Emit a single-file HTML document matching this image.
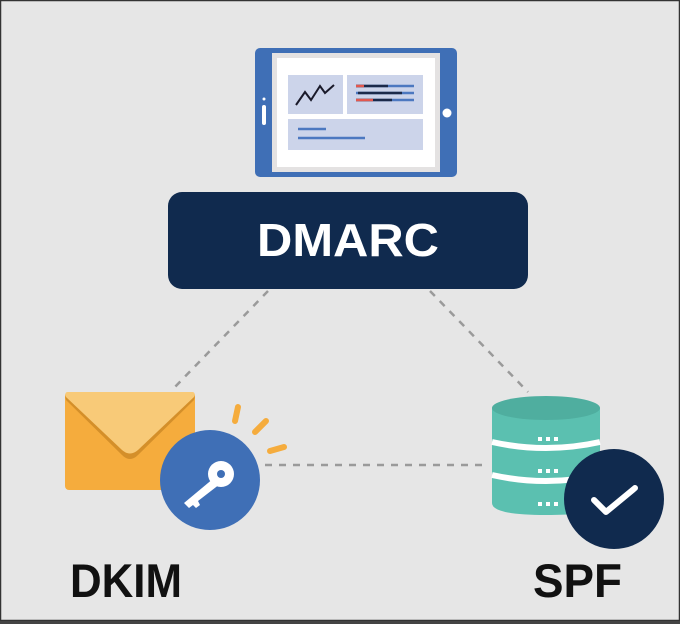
<!DOCTYPE html>
<html><head><style>html,body{margin:0;padding:0;background:#e6e6e6}svg{display:block}</style></head>
<body>
<svg width="680" height="624" viewBox="0 0 680 624" xmlns="http://www.w3.org/2000/svg" font-family="Liberation Sans, sans-serif">
<rect x="0" y="0" width="680" height="624" fill="#e6e6e6"/>
<rect x="0.5" y="0.5" width="679" height="620" fill="none" stroke="#333" stroke-width="1.5"/>
<rect x="0" y="621" width="680" height="3" fill="#444"/>
<!-- dashed connectors -->
<g stroke="#9a9a9a" stroke-width="2.5" stroke-dasharray="7 7" fill="none">
<line x1="268" y1="291" x2="172" y2="390"/>
<line x1="430" y1="291" x2="528" y2="392"/>
<line x1="265" y1="465" x2="488" y2="465"/>
</g>
<!-- tablet -->
<rect x="255" y="48" width="202" height="129" rx="5" fill="#3f6fb6"/>
<rect x="272" y="53" width="168" height="119" fill="#e4e2e2"/>
<rect x="277" y="58" width="158" height="109" fill="#ffffff"/>
<rect x="288" y="75" width="55" height="39" fill="#ccd4ea"/>
<rect x="347" y="75" width="76" height="39" fill="#ccd4ea"/>
<rect x="288" y="119" width="135" height="31" fill="#ccd4ea"/>
<polyline points="296,105 305,92 311,100 320,86 325,93 334,85" fill="none" stroke="#1a1a2a" stroke-width="2"/>
<g stroke-width="2.5">
<line x1="356" y1="86" x2="414" y2="86" stroke="#4c78c0"/>
<line x1="356" y1="86" x2="388" y2="86" stroke="#1b2a4a"/>
<line x1="356" y1="86" x2="364" y2="86" stroke="#e2584f"/>
<line x1="356" y1="93" x2="414" y2="93" stroke="#4c78c0"/>
<line x1="358" y1="93" x2="402" y2="93" stroke="#1b2a4a"/>
<line x1="356" y1="100" x2="414" y2="100" stroke="#4c78c0"/>
<line x1="356" y1="100" x2="392" y2="100" stroke="#1b2a4a"/>
<line x1="356" y1="100" x2="373" y2="100" stroke="#e2584f"/>
<line x1="298" y1="129" x2="326" y2="129" stroke="#4c78c0"/>
<line x1="298" y1="138" x2="365" y2="138" stroke="#4c78c0"/>
</g>
<rect x="262" y="105" width="4" height="20" rx="2" fill="#fff"/>
<circle cx="264" cy="99" r="1.5" fill="#fff"/>
<circle cx="447" cy="113" r="4.5" fill="#fff"/>
<!-- DMARC -->
<rect x="168" y="192" width="360" height="97" rx="14" fill="#102a4e"/>
<text x="348" y="256" text-anchor="middle" fill="#fff" font-size="46" font-weight="bold" textLength="182" lengthAdjust="spacingAndGlyphs">DMARC</text>
<!-- envelope -->
<rect x="65" y="392" width="130" height="98" rx="4" fill="#f5ac3d"/>
<path d="M68,392 L192,392 Q196,392 194,397 L138,452 Q130,460 122,452 L66,397 Q64,392 68,392Z" fill="#d48f2a" transform="translate(0,3)"/>
<path d="M68,392 L192,392 Q196,392 194,397 L138,450 Q130,457 122,450 L66,397 Q64,392 68,392Z" fill="#f8ca78"/>
<!-- rays -->
<g stroke="#f5ac3d" stroke-width="6" stroke-linecap="round">
<line x1="238" y1="407" x2="235" y2="421"/>
<line x1="266" y1="421" x2="255" y2="432"/>
<line x1="284" y1="447" x2="270" y2="451"/>
</g>
<!-- key -->
<circle cx="210" cy="480" r="50" fill="#3f6fb6"/>
<g fill="#fff">
<circle cx="221" cy="474" r="13"/>
<path d="M214,478 L184,503 L189,508 L193,505 L196,508 L200,505 L198,501 L220,484Z"/>
</g>
<circle cx="221" cy="474" r="4" fill="#3f6fb6"/>
<!-- database -->
<path d="M492,408 L492,503 Q492,515 546,515 Q600,515 600,503 L600,408Z" fill="#5bc0b0"/>
<ellipse cx="546" cy="408" rx="54" ry="12" fill="#4fae9f"/>
<path d="M492,442 Q546,454 600,442" fill="none" stroke="#fff" stroke-width="6"/>
<path d="M492,475 Q546,487 600,475" fill="none" stroke="#fff" stroke-width="6"/>
<g fill="#fff">
<rect x="538" y="437" width="4" height="4"/><rect x="546" y="437" width="4" height="4"/><rect x="554" y="437" width="4" height="4"/>
<rect x="538" y="469" width="4" height="4"/><rect x="546" y="469" width="4" height="4"/><rect x="554" y="469" width="4" height="4"/>
<rect x="538" y="502" width="4" height="4"/><rect x="546" y="502" width="4" height="4"/><rect x="554" y="502" width="4" height="4"/>
</g>
<circle cx="614" cy="499" r="50" fill="#102a4e"/>
<polyline points="594,500 606,512 635,488" fill="none" stroke="#fff" stroke-width="6" stroke-linecap="round" stroke-linejoin="round"/>
<!-- labels -->
<text x="70" y="597" fill="#111" font-size="47" font-weight="bold" textLength="112" lengthAdjust="spacingAndGlyphs">DKIM</text>
<text x="533" y="597" fill="#111" font-size="47" font-weight="bold" textLength="89" lengthAdjust="spacingAndGlyphs">SPF</text>
</svg>
</body></html>
